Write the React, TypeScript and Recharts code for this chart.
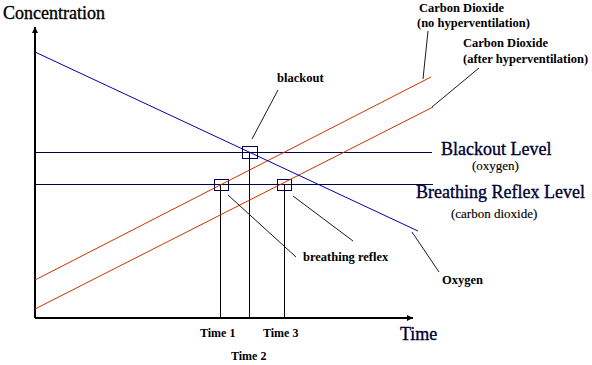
import { LineChart, Line, XAxis, YAxis, ReferenceLine, ReferenceArea, ReferenceDot } from 'recharts'

// time runs right from the y axis, concentration runs up from the x axis
const oxygen = [
  { t: 0, c: 266 },
  { t: 383, c: 87 },
]
const co2NoHyper = [
  { t: 0, c: 38 },
  { t: 396, c: 241 },
]
const co2AfterHyper = [
  { t: 0, c: 9 },
  { t: 398, c: 211 },
]

const blackoutLevel = 166
const reflexLevel = 134
const levelEnd = [397, 398]

const timeLabels = ['Time 1', 'Time 2', 'Time 3']
const timeValues = [185, 214, 249]
const timeLevels = [reflexLevel, blackoutLevel, reflexLevel]

const axisEnd = { t: 378, c: 291 }

// boxes around the crossing points [t1, t2, c1, c2]
const boxes = [
  [179, 193, 128, 139],
  [207, 222, 160, 172],
  [242, 256, 128, 139],
]

// pointer lines [[t, c], [t, c]]
const pointers = [
  [[243, 228], [217, 179]],
  [[193, 123], [261, 61]],
  [[258, 122], [318, 77]],
  [[377, 86], [404, 46]],
  [[388, 239], [393, 287]],
  [[397, 211], [444, 250]],
]

type Note = { t: number; c: number; text: string; size: number; bold?: boolean; color?: string }

const notes: Note[] = [
  { t: -32, c: 299, text: 'Concentration', size: 18, color: '#000' },
  { t: 365, c: -22, text: 'Time', size: 18, color: '#000033' },
  { t: 165, c: -19, text: timeLabels[0], size: 12, bold: true },
  { t: 196, c: -42, text: timeLabels[1], size: 12, bold: true },
  { t: 228, c: -19, text: timeLabels[2], size: 12, bold: true },
  { t: 242, c: 236, text: 'blackout', size: 12.5, bold: true },
  { t: 268, c: 57, text: 'breathing reflex', size: 12.5, bold: true },
  { t: 407, c: 34, text: 'Oxygen', size: 12.5, bold: true },
  { t: 384, c: 306, text: 'Carbon Dioxide', size: 12.5, bold: true },
  { t: 382, c: 291, text: '(no hyperventilation)', size: 12.5, bold: true },
  { t: 428, c: 271, text: 'Carbon Dioxide', size: 12.5, bold: true },
  { t: 428, c: 255, text: '(after hyperventilation)', size: 12.5, bold: true },
  { t: 406, c: 163, text: 'Blackout Level', size: 18, color: '#000033' },
  { t: 437, c: 148, text: '(oxygen)', size: 13 },
  { t: 381, c: 120, text: 'Breathing Reflex Level', size: 18, color: '#000033' },
  { t: 416, c: 100, text: '(carbon dioxide)', size: 13 },
]

const navy = '#000050'
const red = '#cc3300'
const blue = '#0000a8'

export default function App() {
  return (
    <div style={{ position: 'absolute', left: 0, top: 0, background: '#fff' }}>
      <LineChart width={592} height={365} margin={{ top: 0, right: 0, bottom: 0, left: 0 }}>
        <XAxis type="number" dataKey="t" domain={[-35, 557]} hide allowDataOverflow />
        <YAxis type="number" dataKey="c" domain={[-47, 318]} hide allowDataOverflow />

        <ReferenceLine segment={[{ x: 0, y: 0 }, { x: 0, y: axisEnd.c }]} stroke="#000" strokeWidth={1.5} shapeRendering="crispEdges" />
        <ReferenceLine segment={[{ x: 0, y: 0 }, { x: axisEnd.t, y: 0 }]} stroke="#000" strokeWidth={1.5} shapeRendering="crispEdges" />
        <ReferenceDot x={0} y={axisEnd.c} r={0} shape={(p: any) => (
          <polygon points={`${p.cx},${p.cy} ${p.cx - 3},${p.cy + 6} ${p.cx + 3},${p.cy + 6}`} fill="#000" />
        )} />
        <ReferenceDot x={axisEnd.t} y={0} r={0} shape={(p: any) => (
          <polygon points={`${p.cx},${p.cy} ${p.cx - 6},${p.cy - 3} ${p.cx - 6},${p.cy + 3}`} fill="#000" />
        )} />

        <ReferenceLine segment={[{ x: 0, y: blackoutLevel }, { x: levelEnd[0], y: blackoutLevel }]} stroke={navy} strokeWidth={1} shapeRendering="crispEdges" />
        <ReferenceLine segment={[{ x: 0, y: reflexLevel }, { x: levelEnd[1], y: reflexLevel }]} stroke={navy} strokeWidth={1} shapeRendering="crispEdges" />

        {timeValues.map((t, i) => (
          <ReferenceLine key={timeLabels[i]} segment={[{ x: t, y: 0 }, { x: t, y: timeLevels[i] }]} stroke="#000" strokeWidth={1} shapeRendering="crispEdges" />
        ))}

        <Line data={co2NoHyper} dataKey="c" stroke={red} strokeWidth={1} dot={false} activeDot={false} isAnimationActive={false} />
        <Line data={co2AfterHyper} dataKey="c" stroke={red} strokeWidth={1} dot={false} activeDot={false} isAnimationActive={false} />
        <Line data={oxygen} dataKey="c" stroke={blue} strokeWidth={1} dot={false} activeDot={false} isAnimationActive={false} />

        {boxes.map((b, i) => (
          <ReferenceArea key={i} x1={b[0]} x2={b[1]} y1={b[2]} y2={b[3]} fill="none" fillOpacity={0} stroke={navy} strokeWidth={1} shapeRendering="crispEdges" />
        ))}

        {pointers.map((p, i) => (
          <ReferenceLine key={i} segment={[{ x: p[0][0], y: p[0][1] }, { x: p[1][0], y: p[1][1] }]} stroke="#000" strokeWidth={0.9} />
        ))}

        {notes.map((n, i) => (
          <ReferenceDot key={i} x={n.t} y={n.c} r={0} shape={(p: any) => (
            <text
              x={p.cx}
              y={p.cy}
              fontFamily="'Liberation Serif', 'Times New Roman', serif"
              fontSize={n.size}
              fontWeight={n.bold ? 'bold' : 'normal'}
              fill={n.color ?? '#000'}
              stroke={n.bold ? 'none' : n.color ?? '#000'}
              strokeWidth={n.size > 15 ? 0.35 : 0.15}
            >
              {n.text}
            </text>
          )} />
        ))}
      </LineChart>
    </div>
  )
}
